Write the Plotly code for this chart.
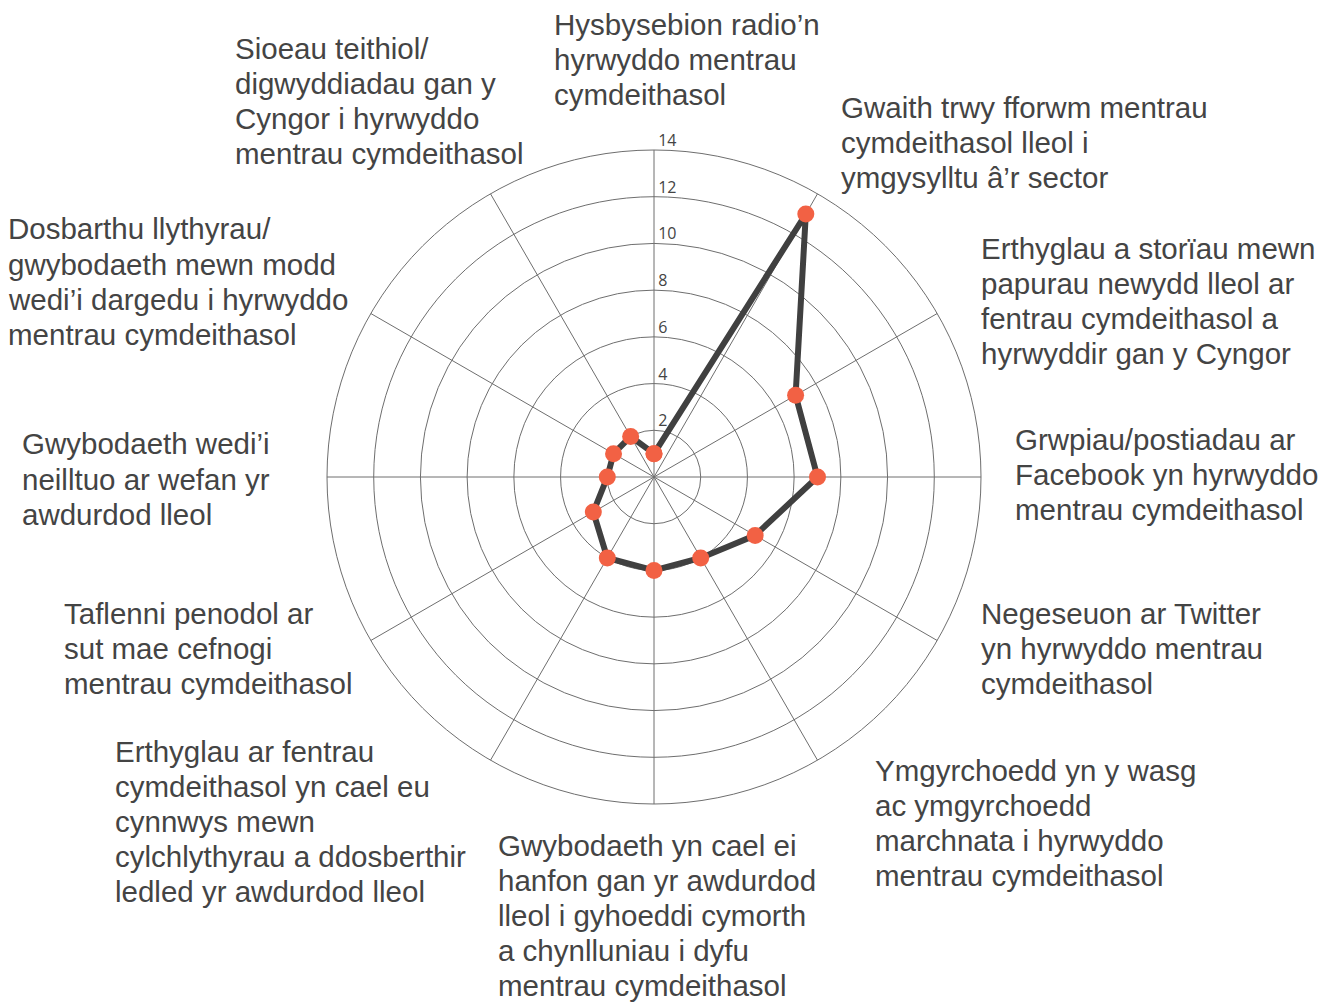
import plotly.graph_objects as go

categories = [
    "Hysbysebion radio’n<br>hyrwyddo mentrau<br>cymdeithasol",
    "Gwaith trwy fforwm mentrau<br>cymdeithasol lleol i<br>ymgysylltu â’r sector",
    "Erthyglau a storïau mewn<br>papurau newydd lleol ar<br>fentrau cymdeithasol a<br>hyrwyddir gan y Cyngor",
    "Grwpiau/postiadau ar<br>Facebook yn hyrwyddo<br>mentrau cymdeithasol",
    "Negeseuon ar Twitter<br>yn hyrwyddo mentrau<br>cymdeithasol",
    "Ymgyrchoedd yn y wasg<br>ac ymgyrchoedd<br>marchnata i hyrwyddo<br>mentrau cymdeithasol",
    "Gwybodaeth yn cael ei<br>hanfon gan yr awdurdod<br>lleol i gyhoeddi cymorth<br>a chynlluniau i dyfu<br>mentrau cymdeithasol",
    "Erthyglau ar fentrau<br>cymdeithasol yn cael eu<br>cynnwys mewn<br>cylchlythyrau a ddosberthir<br>ledled yr awdurdod lleol",
    "Taflenni penodol ar<br>sut mae cefnogi<br>mentrau cymdeithasol",
    "Gwybodaeth wedi’i<br>neilltuo ar wefan yr<br>awdurdod lleol",
    "Dosbarthu llythyrau/<br>gwybodaeth mewn modd<br>wedi’i dargedu i hyrwyddo<br>mentrau cymdeithasol",
    "Sioeau teithiol/<br>digwyddiadau gan y<br>Cyngor i hyrwyddo<br>mentrau cymdeithasol",
]
values = [1, 13, 7, 7, 5, 4, 4, 4, 3, 2, 2, 2]
radial_ticks = [2, 4, 6, 8, 10, 12, 14]

# label anchor positions in window pixels (left edge, first-line centre)
label_pos = [
    (555, 24), (842, 107), (982, 248), (1016, 439), (982, 613), (876, 770),
    (499, 845), (116, 751), (65, 613), (23, 444), (9, 229), (236, 48),
]
LINE_H = 35.2
OFF = 8  # page body margin
W, H = 1336 - OFF, 1005 - OFF


def px(x):
    return (x - OFF) / W


def py(y):
    return 1 - (y - OFF) / H


fig = go.Figure()

fig.add_trace(go.Scatterpolar(
    r=values + [values[0]],
    theta=categories + [categories[0]],
    mode="lines+markers",
    line=dict(color="#404040", width=6),
    marker=dict(color="#f26144", size=17, line=dict(width=0)),
    hoverinfo="r+theta",
    showlegend=False,
))

fig.add_trace(go.Scatterpolar(
    r=radial_ticks,
    theta=[categories[0]] * len(radial_ticks),
    mode="text",
    text=[" " + str(t) for t in radial_ticks],
    textposition="top right",
    textfont=dict(family="Open Sans", size=16, color="#444444"),
    hoverinfo="skip",
    showlegend=False,
))

annotations = []
for lab, (x0, y0) in zip(categories, label_pos):
    for i, line in enumerate(lab.split("<br>")):
        annotations.append(dict(
            text=line, x=px(x0 - 3), y=py(y0 + i * LINE_H),
            xref="paper", yref="paper",
            xanchor="left", yanchor="middle", align="left", showarrow=False,
            font=dict(family="Liberation Sans, Arial", size=29.5, color="#444444"),
        ))

fig.update_layout(
    width=W, height=H,
    margin=dict(l=0, r=0, t=0, b=0),
    paper_bgcolor="white",
    plot_bgcolor="white",
    showlegend=False,
    annotations=annotations,
    polar=dict(
        domain=dict(x=[px(327), px(981)], y=[py(804), py(150)]),
        bgcolor="white",
        radialaxis=dict(
            range=[0, 14], tickvals=radial_ticks, showticklabels=False,
            ticks="", showline=False, gridcolor="#6e6e6e", gridwidth=1,
        ),
        angularaxis=dict(
            direction="clockwise", rotation=90, showticklabels=False,
            ticks="", showline=True, linecolor="#6e6e6e", linewidth=1,
            gridcolor="#6e6e6e", gridwidth=1,
        ),
    ),
)

fig.write_html("out.html")
